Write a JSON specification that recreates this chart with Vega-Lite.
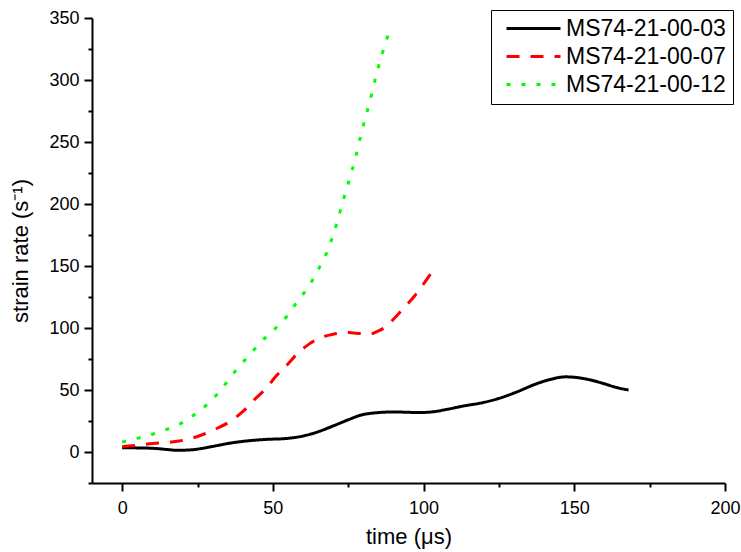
{
  "$schema": "https://vega.github.io/schema/vega-lite/v6.json",
  "width": 633,
  "height": 465,
  "autosize": {"type": "none"},
  "padding": {"left": 92, "top": 18, "right": 16, "bottom": 69},
  "background": "white",
  "config": {
    "view": {"stroke": null},
    "font": "Liberation Sans",
    "legend": {
      "title": null,
      "orient": "none",
      "legendX": 399,
      "legendY": -8,
      "strokeColor": "black",
      "fillColor": "white",
      "padding": 7,
      "symbolType": "M-2.7,0H2.7",
      "symbolSize": 400,
      "symbolStrokeWidth": 3,
      "symbolOffset": 24,
      "labelFontSize": 23,
      "labelColor": "black",
      "labelOffset": 21,
      "labelLimit": 300,
      "rowPadding": 4
    }
  },
  "data": {
    "values": [
      {"series": "MS74-21-00-03", "t": 0, "rate": 3.5},
      {"series": "MS74-21-00-03", "t": 5, "rate": 3.3},
      {"series": "MS74-21-00-03", "t": 10, "rate": 3},
      {"series": "MS74-21-00-03", "t": 15, "rate": 2},
      {"series": "MS74-21-00-03", "t": 18, "rate": 1.4},
      {"series": "MS74-21-00-03", "t": 22, "rate": 1.6},
      {"series": "MS74-21-00-03", "t": 26, "rate": 2.7},
      {"series": "MS74-21-00-03", "t": 30, "rate": 4.5},
      {"series": "MS74-21-00-03", "t": 37, "rate": 7.6},
      {"series": "MS74-21-00-03", "t": 43, "rate": 9.3},
      {"series": "MS74-21-00-03", "t": 48, "rate": 10.2},
      {"series": "MS74-21-00-03", "t": 54, "rate": 10.8},
      {"series": "MS74-21-00-03", "t": 59, "rate": 12.4},
      {"series": "MS74-21-00-03", "t": 64, "rate": 15.5},
      {"series": "MS74-21-00-03", "t": 70, "rate": 21},
      {"series": "MS74-21-00-03", "t": 75, "rate": 26},
      {"series": "MS74-21-00-03", "t": 79, "rate": 29.6},
      {"series": "MS74-21-00-03", "t": 84, "rate": 31.6},
      {"series": "MS74-21-00-03", "t": 90, "rate": 32.3},
      {"series": "MS74-21-00-03", "t": 95, "rate": 32},
      {"series": "MS74-21-00-03", "t": 98, "rate": 31.8},
      {"series": "MS74-21-00-03", "t": 103, "rate": 32.4},
      {"series": "MS74-21-00-03", "t": 108, "rate": 34.5},
      {"series": "MS74-21-00-03", "t": 113, "rate": 37},
      {"series": "MS74-21-00-03", "t": 120, "rate": 40},
      {"series": "MS74-21-00-03", "t": 126, "rate": 44},
      {"series": "MS74-21-00-03", "t": 131, "rate": 48.5},
      {"series": "MS74-21-00-03", "t": 137, "rate": 54.6},
      {"series": "MS74-21-00-03", "t": 142, "rate": 58.5},
      {"series": "MS74-21-00-03", "t": 147, "rate": 60.6},
      {"series": "MS74-21-00-03", "t": 151, "rate": 60},
      {"series": "MS74-21-00-03", "t": 155, "rate": 58.3},
      {"series": "MS74-21-00-03", "t": 160, "rate": 55},
      {"series": "MS74-21-00-03", "t": 164, "rate": 52},
      {"series": "MS74-21-00-03", "t": 168, "rate": 50},
      {"series": "MS74-21-00-07", "t": 0, "rate": 4.3},
      {"series": "MS74-21-00-07", "t": 5, "rate": 5.5},
      {"series": "MS74-21-00-07", "t": 10, "rate": 6.8},
      {"series": "MS74-21-00-07", "t": 15, "rate": 7.7},
      {"series": "MS74-21-00-07", "t": 19, "rate": 8.9},
      {"series": "MS74-21-00-07", "t": 23, "rate": 11},
      {"series": "MS74-21-00-07", "t": 27, "rate": 14.3},
      {"series": "MS74-21-00-07", "t": 31, "rate": 18.5},
      {"series": "MS74-21-00-07", "t": 36, "rate": 25},
      {"series": "MS74-21-00-07", "t": 40, "rate": 32.5},
      {"series": "MS74-21-00-07", "t": 44, "rate": 42.5},
      {"series": "MS74-21-00-07", "t": 48, "rate": 52},
      {"series": "MS74-21-00-07", "t": 51, "rate": 61},
      {"series": "MS74-21-00-07", "t": 55, "rate": 71},
      {"series": "MS74-21-00-07", "t": 58, "rate": 79},
      {"series": "MS74-21-00-07", "t": 62, "rate": 87},
      {"series": "MS74-21-00-07", "t": 66, "rate": 92.3},
      {"series": "MS74-21-00-07", "t": 70, "rate": 95},
      {"series": "MS74-21-00-07", "t": 75, "rate": 96.3},
      {"series": "MS74-21-00-07", "t": 79, "rate": 95.5},
      {"series": "MS74-21-00-07", "t": 82, "rate": 95},
      {"series": "MS74-21-00-07", "t": 85, "rate": 97.6},
      {"series": "MS74-21-00-07", "t": 88, "rate": 102},
      {"series": "MS74-21-00-07", "t": 90, "rate": 107},
      {"series": "MS74-21-00-07", "t": 93, "rate": 115},
      {"series": "MS74-21-00-07", "t": 97, "rate": 125.8},
      {"series": "MS74-21-00-07", "t": 100, "rate": 135.5},
      {"series": "MS74-21-00-07", "t": 103, "rate": 146},
      {"series": "MS74-21-00-12", "t": 0, "rate": 8},
      {"series": "MS74-21-00-12", "t": 5, "rate": 11},
      {"series": "MS74-21-00-12", "t": 10, "rate": 14.3},
      {"series": "MS74-21-00-12", "t": 15, "rate": 18.5},
      {"series": "MS74-21-00-12", "t": 20, "rate": 23.7},
      {"series": "MS74-21-00-12", "t": 25, "rate": 32},
      {"series": "MS74-21-00-12", "t": 30, "rate": 42.5},
      {"series": "MS74-21-00-12", "t": 34, "rate": 54},
      {"series": "MS74-21-00-12", "t": 38, "rate": 66.7},
      {"series": "MS74-21-00-12", "t": 42, "rate": 77.5},
      {"series": "MS74-21-00-12", "t": 46, "rate": 88.7},
      {"series": "MS74-21-00-12", "t": 51, "rate": 100},
      {"series": "MS74-21-00-12", "t": 55, "rate": 110.5},
      {"series": "MS74-21-00-12", "t": 58, "rate": 121},
      {"series": "MS74-21-00-12", "t": 62, "rate": 133.9},
      {"series": "MS74-21-00-12", "t": 65, "rate": 147},
      {"series": "MS74-21-00-12", "t": 67.5, "rate": 158.6},
      {"series": "MS74-21-00-12", "t": 71, "rate": 182.8},
      {"series": "MS74-21-00-12", "t": 73, "rate": 200},
      {"series": "MS74-21-00-12", "t": 75.4, "rate": 219.9},
      {"series": "MS74-21-00-12", "t": 77.5, "rate": 238},
      {"series": "MS74-21-00-12", "t": 79.3, "rate": 256.5},
      {"series": "MS74-21-00-12", "t": 82, "rate": 281},
      {"series": "MS74-21-00-12", "t": 84.5, "rate": 306},
      {"series": "MS74-21-00-12", "t": 87.4, "rate": 330},
      {"series": "MS74-21-00-12", "t": 89.2, "rate": 343}
    ]
  },
  "mark": {"type": "line", "strokeWidth": 3, "interpolate": "monotone", "clip": true},
  "encoding": {
    "x": {
      "field": "t",
      "type": "quantitative",
      "scale": {"domain": [-10, 200], "nice": false, "zero": false},
      "axis": {
        "title": "time (μs)",
        "values": [0, 25, 50, 75, 100, 125, 150, 175, 200],
        "labelExpr": "datum.value % 50 === 0 ? datum.label : ''",
        "grid": false,
        "domainColor": "black",
        "domainWidth": 2,
        "tickColor": "black",
        "tickWidth": 2,
        "tickSize": {"condition": {"test": "datum.value % 50 === 0", "value": 8}, "value": 4},
        "labelFontSize": 18,
        "labelColor": "black",
        "labelPadding": 8,
        "labelFlush": false,
        "titleFontSize": 22,
        "titleFontWeight": "normal",
        "titleColor": "black",
        "titlePadding": 9
      }
    },
    "y": {
      "field": "rate",
      "type": "quantitative",
      "scale": {"domain": [-25, 350], "nice": false, "zero": false},
      "axis": {
        "title": "strain rate (s⁻¹)",
        "values": [-25, 0, 25, 50, 75, 100, 125, 150, 175, 200, 225, 250, 275, 300, 325, 350],
        "labelExpr": "datum.value % 50 === 0 ? datum.label : ''",
        "grid": false,
        "domainColor": "black",
        "domainWidth": 2,
        "tickColor": "black",
        "tickWidth": 2,
        "tickSize": {"condition": {"test": "datum.value % 50 === 0", "value": 8}, "value": 4},
        "labelFontSize": 18,
        "labelColor": "black",
        "labelPadding": 5,
        "labelFlush": false,
        "titleFontSize": 22,
        "titleFontWeight": "normal",
        "titleColor": "black",
        "titlePadding": 16
      }
    },
    "color": {
      "field": "series",
      "type": "nominal",
      "scale": {
        "domain": ["MS74-21-00-03", "MS74-21-00-07", "MS74-21-00-12"],
        "range": ["#000000", "#ff0000", "#00ff00"]
      }
    },
    "strokeDash": {
      "field": "series",
      "type": "nominal",
      "scale": {
        "domain": ["MS74-21-00-03", "MS74-21-00-07", "MS74-21-00-12"],
        "range": [[1, 0], [13, 11], [4, 11]]
      }
    }
  }
}
